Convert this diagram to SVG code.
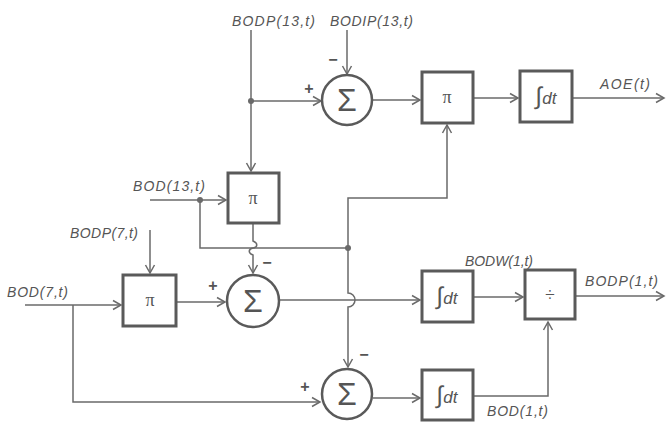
<svg xmlns="http://www.w3.org/2000/svg" width="668" height="422" viewBox="0 0 668 422">
<style>
.box{fill:#fff;stroke:#5a5a5a;stroke-width:3}
.sum{fill:#fff;stroke:#5a5a5a;stroke-width:2.5}
.ln{fill:none;stroke:#6a6a6a;stroke-width:1.5}
.lbl{font-family:"Liberation Sans",Arial,sans-serif;font-style:italic;font-size:14px;fill:#555}
.sig{font-family:"Liberation Sans",Arial,sans-serif;font-size:32px;fill:#555;text-anchor:middle}
.pi{font-family:"Liberation Serif",serif;font-size:18px;fill:#555;text-anchor:middle}
.int{font-family:"Liberation Sans",Arial,sans-serif;font-style:italic;font-size:17px;fill:#555;text-anchor:middle}
.big{font-size:24px}
.sgn{font-family:"Liberation Sans",Arial,sans-serif;font-size:16px;font-weight:bold;fill:#555;text-anchor:middle}
.dot{fill:#6a6a6a}
</style>
<defs>
<marker id="ar" markerUnits="userSpaceOnUse" markerWidth="12" markerHeight="12" refX="9" refY="6" orient="auto">
<path d="M1,1.5 L9,6 L1,10.5" fill="none" stroke="#6a6a6a" stroke-width="1.5"/>
</marker>
</defs>
<rect width="668" height="422" fill="#fff"/>

<g id="connectors">
<path class="ln" d="M251,30 V171" marker-end="url(#ar)"/>
<path class="ln" d="M251,101 H321" marker-end="url(#ar)"/>
<path class="ln" d="M347,30 V74" marker-end="url(#ar)"/>
<path class="ln" d="M372,100 H420" marker-end="url(#ar)"/>
<path class="ln" d="M473,98 H518" marker-end="url(#ar)"/>
<path class="ln" d="M572,98 H664" marker-end="url(#ar)"/>
<path class="ln" d="M150,200 H226" marker-end="url(#ar)"/>
<path class="ln" d="M200,200 V248 H348"/>
<path class="ln" d="M253,223 V241 C258,243 258,247 253,248 C248,249 248,253 253,255 V273" marker-end="url(#ar)"/>
<path class="ln" d="M348,248 V198 H447 V125" marker-end="url(#ar)"/>
<path class="ln" d="M348,248 V293 A7,7 0 0 1 348,307 V367" marker-end="url(#ar)"/>
<path class="ln" d="M150,230 V273" marker-end="url(#ar)"/>
<path class="ln" d="M25,305 H121" marker-end="url(#ar)"/>
<path class="ln" d="M73,305 V402 H320" marker-end="url(#ar)"/>
<path class="ln" d="M176,302 H225" marker-end="url(#ar)"/>
<path class="ln" d="M279,300 H420" marker-end="url(#ar)"/>
<path class="ln" d="M473,297 H523" marker-end="url(#ar)"/>
<path class="ln" d="M575,296 H664" marker-end="url(#ar)"/>
<path class="ln" d="M373,398 H420" marker-end="url(#ar)"/>
<path class="ln" d="M473,396 H548 V322" marker-end="url(#ar)"/>
<circle class="dot" cx="251" cy="101" r="3"/>
<circle class="dot" cx="200" cy="200" r="3"/>
<circle class="dot" cx="348" cy="248" r="3"/>
</g>

<g id="sum1"><circle class="sum" cx="347" cy="100" r="25"/><text class="sig" x="347" y="111">Σ</text></g>
<g id="pi1"><rect class="box" x="422" y="72" width="51" height="51"/><text class="pi" x="447" y="103">π</text></g>
<g id="int1"><rect class="box" x="520" y="71" width="52" height="51"/><text class="int" x="546" y="104"><tspan class="big">∫</tspan>dt</text></g>
<g id="pi2"><rect class="box" x="228" y="173" width="51" height="50"/><text class="pi" x="253" y="204">π</text></g>
<g id="pi3"><rect class="box" x="123" y="275" width="53" height="51"/><text class="pi" x="150" y="306">π</text></g>
<g id="sum2"><circle class="sum" cx="253" cy="301" r="26"/><text class="sig" x="253" y="312">Σ</text></g>
<g id="int2"><rect class="box" x="422" y="271" width="51" height="51"/><text class="int" x="447" y="304"><tspan class="big">∫</tspan>dt</text></g>
<g id="div"><rect class="box" x="525" y="270" width="50" height="49"/><text class="pi" x="550" y="301">÷</text></g>
<g id="sum3"><circle class="sum" cx="347" cy="394" r="25"/><text class="sig" x="347" y="405">Σ</text></g>
<g id="int3"><rect class="box" x="422" y="370" width="51" height="50"/><text class="int" x="447" y="403"><tspan class="big">∫</tspan>dt</text></g>

<g id="labels">
<text class="lbl" x="232" y="26" textLength="83" lengthAdjust="spacing">BODP(13,t)</text>
<text class="lbl" x="330" y="26" textLength="83" lengthAdjust="spacing">BODIP(13,t)</text>
<text class="lbl" x="600" y="89" textLength="50" lengthAdjust="spacing">AOE(t)</text>
<text class="lbl" x="133" y="191" textLength="72" lengthAdjust="spacing">BOD(13,t)</text>
<text class="lbl" x="70" y="238" textLength="68" lengthAdjust="spacing">BODP(7,t)</text>
<text class="lbl" x="7" y="297" textLength="61" lengthAdjust="spacing">BOD(7,t)</text>
<text class="lbl" x="465" y="266" textLength="68" lengthAdjust="spacing">BODW(1,t)</text>
<text class="lbl" x="585" y="286" textLength="73" lengthAdjust="spacing">BODP(1,t)</text>
<text class="lbl" x="487" y="416" textLength="61" lengthAdjust="spacing">BOD(1,t)</text>
<text class="sgn" x="309" y="94">+</text>
<text class="sgn" x="333" y="65">−</text>
<text class="sgn" x="213" y="291">+</text>
<text class="sgn" x="267" y="268">−</text>
<text class="sgn" x="305" y="392">+</text>
<text class="sgn" x="364" y="360">−</text>
</g>
</svg>
